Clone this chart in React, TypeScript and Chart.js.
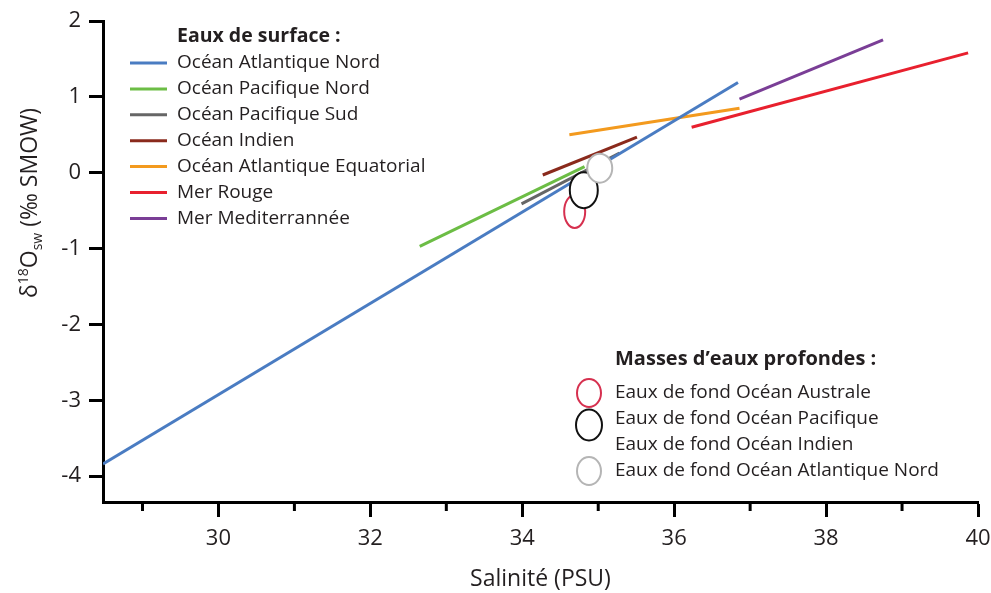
import { useEffect, useRef } from 'react';
import { Chart, registerables } from 'chart.js';

Chart.register(...registerables);

const FONT = '"Open Sans", "DejaVu Sans", sans-serif';
const TEXT = '#231f20';

// Surface water regression lines (salinity, δ18O)
const surfaceNames = [
  'Océan Atlantique Nord',
  'Océan Pacifique Nord',
  'Océan Pacifique Sud',
  'Océan Indien',
  'Océan Atlantique Equatorial',
  'Mer Rouge',
  'Mer Mediterrannée',
];
const surfaceColors = ['#4a7cc2', '#6cbd45', '#666666', '#8a2a1c', '#f39a1e', '#e8202e', '#7a3e96'];

const atlNordX = [28.48, 36.84];
const atlNordY = [-3.84, 1.19];
const pacNordX = [32.65, 34.82];
const pacNordY = [-0.97, 0.08];
const pacSudX = [33.99, 35.28];
const pacSudY = [-0.41, 0.26];
const indienX = [34.27, 35.51];
const indienY = [-0.03, 0.47];
const atlEqX = [34.62, 36.86];
const atlEqY = [0.5, 0.85];
const rougeX = [36.23, 39.87];
const rougeY = [0.6, 1.58];
const mediX = [36.86, 38.75];
const mediY = [0.97, 1.75];

const surfaceXs = [atlNordX, pacNordX, pacSudX, indienX, atlEqX, rougeX, mediX];
const surfaceYs = [atlNordY, pacNordY, pacSudY, indienY, atlEqY, rougeY, mediY];

// Deep water masses (ellipses)
const deepNames = [
  'Eaux de fond Océan Australe',
  'Eaux de fond Océan Pacifique',
  'Eaux de fond Océan Indien',
  'Eaux de fond Océan Atlantique Nord',
];
const deepX = [34.69, 34.81, 35.02];
const deepY = [-0.51, -0.23, 0.06];
const deepColors = ['#d6304f', '#111111', '#b5b5b5'];

const xTickValues = [29, 30, 31, 32, 33, 34, 35, 36, 37, 38, 39, 40];
const yTickValues = [-4, -3, -2, -1, 0, 1, 2];

const surfaceTitle = 'Eaux de surface :';
const deepTitle = 'Masses d\u2019eaux profondes :';
const xTitle = 'Salinité (PSU)';

const overlayPlugin = {
  id: 'overlay',
  afterDatasetsDraw(chart: any) {
    const ctx = chart.ctx;
    const xs = chart.scales.x;
    const ys = chart.scales.y;
    const rx = [10.5, 14, 12.5];
    const ry = [16.5, 18, 14.5];
    ctx.save();
    for (let i = 0; i < deepX.length; i++) {
      const px = xs.getPixelForValue(deepX[i]);
      const py = ys.getPixelForValue(deepY[i]);
      ctx.beginPath();
      ctx.ellipse(px, py, rx[i], ry[i], 0, 0, Math.PI * 2);
      ctx.fillStyle = '#ffffff';
      ctx.fill();
      ctx.lineWidth = 2;
      ctx.strokeStyle = deepColors[i];
      ctx.stroke();
    }
    ctx.restore();
  },
  afterDraw(chart: any) {
    const ctx = chart.ctx;
    const xs = chart.scales.x;
    const area = chart.chartArea;
    ctx.save();
    // minor x ticks
    ctx.strokeStyle = '#000';
    ctx.lineWidth = 3;
    for (const v of xTickValues) {
      if (v % 2 !== 0) {
        const px = xs.getPixelForValue(v);
        ctx.beginPath();
        ctx.moveTo(px, area.bottom);
        ctx.lineTo(px, area.bottom + 9);
        ctx.stroke();
      }
    }
    // surface legend
    ctx.fillStyle = TEXT;
    ctx.textBaseline = 'middle';
    ctx.textAlign = 'left';
    ctx.font = `bold 19.5px ${FONT}`;
    ctx.fillText(surfaceTitle, 177, 36);
    ctx.font = `19px ${FONT}`;
    for (let i = 0; i < surfaceNames.length; i++) {
      const y = 63 + i * 25.9;
      ctx.strokeStyle = surfaceColors[i];
      ctx.lineWidth = 3;
      ctx.beginPath();
      ctx.moveTo(130, y);
      ctx.lineTo(167, y);
      ctx.stroke();
      ctx.fillStyle = TEXT;
      ctx.fillText(surfaceNames[i], 177, y);
    }
    // deep legend
    ctx.font = `bold 20px ${FONT}`;
    ctx.fillText(deepTitle, 615, 359);
    ctx.font = `19px ${FONT}`;
    const rowY = [393, 419, 445, 471];
    for (let i = 0; i < deepNames.length; i++) {
      ctx.fillStyle = TEXT;
      ctx.fillText(deepNames[i], 615, rowY[i]);
    }
    const legendCircles = [
      { y: 393, rx: 12, ry: 14, c: deepColors[0] },
      { y: 425, rx: 13, ry: 15.5, c: deepColors[1] },
      { y: 471, rx: 12, ry: 14, c: deepColors[2] },
    ];
    for (const c of legendCircles) {
      ctx.beginPath();
      ctx.ellipse(589, c.y, c.rx, c.ry, 0, 0, Math.PI * 2);
      ctx.lineWidth = 2;
      ctx.strokeStyle = c.c;
      ctx.stroke();
    }
    // y title with super/subscripts
    const parts = [
      { t: '\u03b4', size: 23, dy: 0 },
      { t: '18', size: 14, dy: -9 },
      { t: 'O', size: 23, dy: 0 },
      { t: 'sw', size: 14, dy: 5 },
      { t: ' (\u2030 SMOW)', size: 23, dy: 0 },
    ];
    let total = 0;
    for (const p of parts) {
      ctx.font = `${p.size}px ${FONT}`;
      total += ctx.measureText(p.t).width;
    }
    ctx.translate(29, 203);
    ctx.rotate(-Math.PI / 2);
    let cx = -total / 2;
    ctx.fillStyle = TEXT;
    ctx.textBaseline = 'alphabetic';
    for (const p of parts) {
      ctx.font = `${p.size}px ${FONT}`;
      ctx.fillText(p.t, cx, 8 + p.dy);
      cx += ctx.measureText(p.t).width;
    }
    ctx.restore();
  },
};

export default function App() {
  const ref = useRef<HTMLCanvasElement>(null);
  useEffect(() => {
    if (!ref.current) return;
    const chart = new Chart(ref.current, {
      type: 'scatter',
      data: {
        datasets: surfaceNames.map((name, i) => ({
          label: name,
          data: surfaceXs[i].map((x, j) => ({ x, y: surfaceYs[i][j] })),
          showLine: true,
          borderColor: surfaceColors[i],
          backgroundColor: surfaceColors[i],
          borderWidth: 3,
          pointRadius: 0,
          pointHoverRadius: 0,
        })),
      },
      options: {
        animation: false,
        responsive: true,
        maintainAspectRatio: false,
        layout: { autoPadding: false, padding: { left: 0, top: 21, right: 13, bottom: 0 } },
        plugins: {
          legend: { display: false },
          tooltip: { enabled: false },
        },
        scales: {
          x: {
            type: 'linear',
            min: 28.48,
            max: 40,
            afterBuildTicks: (s: any) => {
              s.ticks = xTickValues.map((v) => ({ value: v }));
            },
            afterFit: (s: any) => {
              s.height = 91;
              s.paddingLeft = 0;
              s.paddingRight = 0;
            },
            ticks: {
              autoSkip: false,
              maxRotation: 0,
              font: { family: FONT, size: 22 },
              color: TEXT,
              padding: 9,
              callback: (v: any) => (Number(v) % 2 === 0 ? String(v) : ''),
            },
            grid: {
              drawOnChartArea: false,
              drawTicks: true,
              tickLength: 15,
              tickWidth: 3,
              tickColor: (c: any) => (c.tick && c.tick.value % 2 === 0 ? '#000' : 'rgba(0,0,0,0)'),
            },
            border: { display: true, color: '#000', width: 3 },
            title: {
              display: true,
              text: xTitle,
              font: { family: FONT, size: 23 },
              color: TEXT,
              padding: { top: 0, bottom: 0 },
            },
          },
          y: {
            type: 'linear',
            min: -4.34,
            max: 2,
            afterBuildTicks: (s: any) => {
              s.ticks = yTickValues.map((v) => ({ value: v }));
            },
            afterFit: (s: any) => {
              s.width = 103;
              s.paddingTop = 0;
              s.paddingBottom = 0;
            },
            ticks: {
              autoSkip: false,
              font: { family: FONT, size: 22 },
              color: TEXT,
              padding: 8,
              callback: (v: any) => String(v),
            },
            grid: {
              drawOnChartArea: false,
              drawTicks: true,
              tickLength: 14,
              tickWidth: 3,
              tickColor: '#000',
            },
            border: { display: true, color: '#000', width: 3 },
          },
        },
      },
      plugins: [overlayPlugin],
    } as any);
    return () => chart.destroy();
  }, []);
  return (
    <div style={{ position: 'absolute', left: 0, top: 0, width: 991, height: 593, background: '#fff' }}>
      <canvas ref={ref} />
    </div>
  );
}
